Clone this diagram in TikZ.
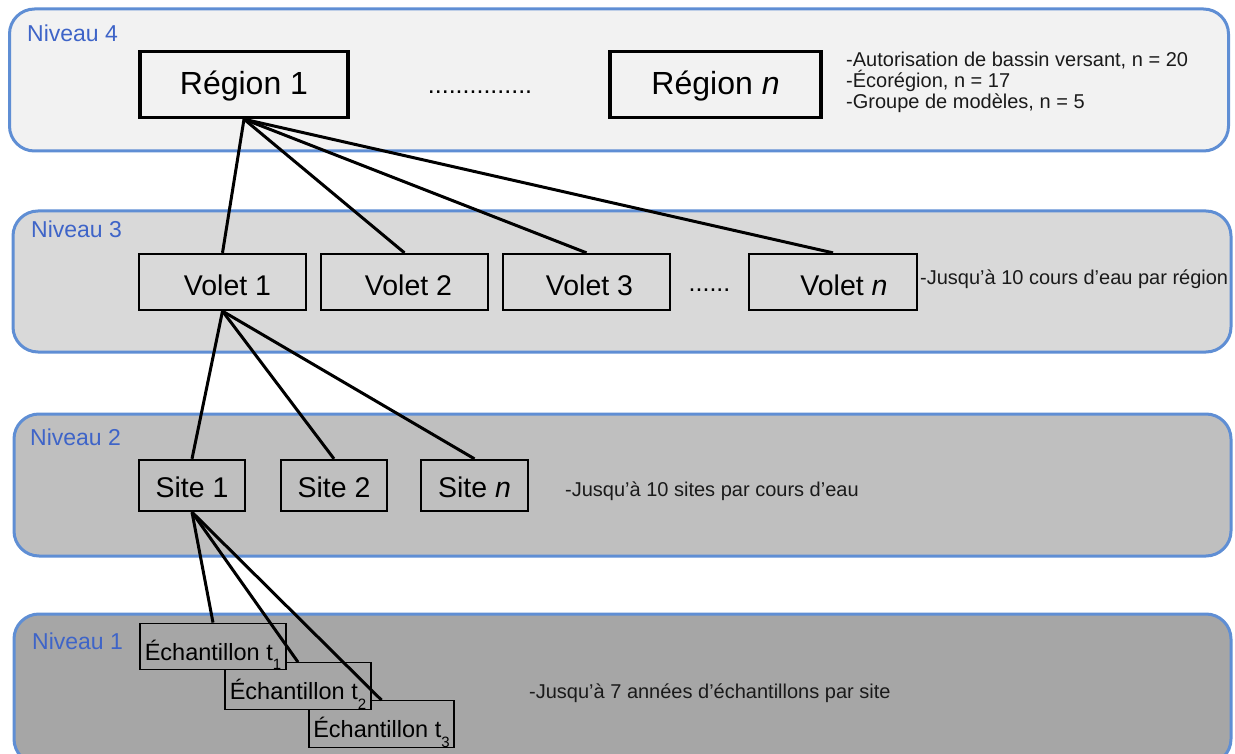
\documentclass[tikz,border=0pt]{standalone}
\usepackage{fontspec}
\setmainfont{Liberation Sans}
\definecolor{bandA}{HTML}{F2F2F2}
\definecolor{bandB}{HTML}{D9D9D9}
\definecolor{bandC}{HTML}{BFBFBF}
\definecolor{bandD}{HTML}{A6A6A6}
\definecolor{bandline}{RGB}{95,142,212}
\definecolor{lvlblue}{RGB}{62,100,200}
\definecolor{notetext}{HTML}{1A1A1A}
\newcommand\tsubx[1]{\raisebox{-0.4em}{\fontsize{15}{15}\selectfont #1}}
\begin{document}
\begin{tikzpicture}[x=1pt,y=-1pt,
  band/.style={draw=bandline, line width=3pt, rounded corners=25pt, inner sep=0pt},
  lvl/.style={anchor=base west, inner sep=0pt, text=lvlblue, font=\fontsize{23}{27}\selectfont},
  note/.style={anchor=base west, inner sep=0pt, text=notetext, font=\fontsize{20}{24}\selectfont},
  dotsx/.style={anchor=base, inner sep=0pt, font=\fontsize{25}{30}\selectfont},
  regbox/.style={draw=black, line width=3.4pt, inner sep=0pt, minimum height=66pt, text height=21pt, text depth=0pt, font=\fontsize{32}{38}\selectfont},
  volbox/.style={draw=black, line width=2.3pt, inner sep=0pt, minimum width=167pt, minimum height=56pt, text height=26pt, text depth=0pt, font=\fontsize{28.5}{34}\selectfont},
  sitebox/.style={draw=black, line width=2.3pt, inner sep=0pt, minimum width=106pt, minimum height=51pt, text height=23pt, text depth=0pt, font=\fontsize{28.5}{34}\selectfont},
  echbox/.style={draw=black, line width=1.3pt, fill=bandD, inner sep=0pt, minimum width=146pt, minimum height=46.5pt, text height=27.5pt, text depth=0pt, font=\fontsize{23.5}{28}\selectfont},
  conn/.style={draw=black, line width=3pt}]
\useasboundingbox (0,0) rectangle (1235,754);
\fill[white] (0,0) rectangle (1235,754);
\clip (0,0) rectangle (1235,754);

% bands
\node[band, fill=bandA, minimum width=1219pt, minimum height=142pt] (b4) at (619,80) {};
\node[band, fill=bandB, minimum width=1218pt, minimum height=141pt] (b3) at (622,281.5) {};
\node[band, fill=bandC, minimum width=1217pt, minimum height=142pt] (b2) at (622.5,485) {};
\node[band, fill=bandD, minimum width=1217pt, minimum height=150pt] (b1) at (622.5,689) {};

% level labels
\node[lvl] (l4) at (27,42) {Niveau 4};
\node[lvl] (l3) at (31,238) {Niveau 3};
\node[lvl] (l2) at (30,445) {Niveau 2};
\node[lvl] (l1) at (32,649) {Niveau 1};

% level 4
\node[regbox, minimum width=208pt] (r1) at (244,84.5) {Région 1};
\node[regbox, minimum width=211pt] (rn) at (715.5,84.5) {Région \textit{n}};
\node[dotsx] (d4) at (480,94) {...............};
\node[note] (n4a) at (846,66.5) {-Autorisation de bassin versant, n = 20};
\node[note] (n4b) at (846,87.5) {-Écorégion, n = 17};
\node[note] (n4c) at (846,108.5) {-Groupe de modèles, n = 5};

% level 3
\node[volbox] (v1) at (222.5,282) {\hspace{10pt}Volet 1};
\node[volbox] (v2) at (404.5,282) {\hspace{8pt}Volet 2};
\node[volbox] (v3) at (586.5,282) {\hspace{6pt}Volet 3};
\node[volbox, minimum width=168pt] (vn) at (833,282) {\hspace{22pt}Volet \textit{n}};
\node[dotsx] (d3) at (709.5,291) {......};
\node[note] (n3) at (920,285) {-Jusqu’à 10 cours d’eau par région};

% level 2
\node[sitebox] (s1) at (192,485.5) {Site 1};
\node[sitebox] (s2) at (334,485.5) {Site 2};
\node[sitebox, minimum width=107pt] (sn) at (474.5,485.5) {Site \textit{n}};
\node[note] (n2) at (565,496) {-Jusqu’à 10 sites par cours d’eau};

% level 1
\node[echbox, minimum width=145pt] (t3) at (381.5,724) {Échantillon t\tsubx{3}};
\node[echbox] (t2) at (298,686) {Échantillon t\tsubx{2}};
\node[echbox] (t1) at (213,646.5) {Échantillon t\tsubx{1}};
\node[note] (n1) at (529,698) {-Jusqu’à 7 années d’échantillons par site};

% connectors
\draw[conn] (r1.south) -- (v1.north);
\draw[conn] (r1.south) -- (v2.north);
\draw[conn] (r1.south) -- (v3.north);
\draw[conn] (r1.south) -- (vn.north);
\draw[conn] (v1.south) -- (s1.north);
\draw[conn] (v1.south) -- (s2.north);
\draw[conn] (v1.south) -- (sn.north);
\draw[conn] (s1.south) -- (t1.north);
\draw[conn] (s1.south) -- (t2.north);
\draw[conn] (s1.south) -- (t3.north);
\end{tikzpicture}
\end{document}
